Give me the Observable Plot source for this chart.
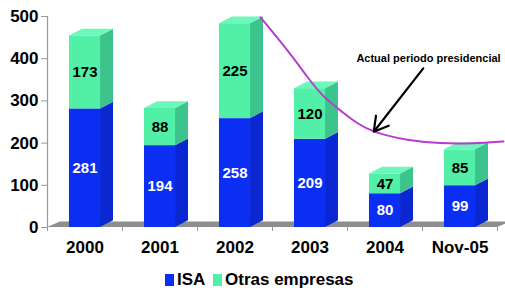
<!DOCTYPE html>
<html>
<head>
<meta charset="utf-8">
<script src="https://cdn.jsdelivr.net/npm/d3@7"></script>
<script src="https://cdn.jsdelivr.net/npm/@observablehq/plot@0.6"></script>
<style>
  html, body { margin: 0; padding: 0; background: #fff; }
  #chart svg { display: block; }
  #legend { position: relative; height: 25px; font-family: "Liberation Sans", Arial, sans-serif; font-weight: bold; font-size: 17px; color: #000; }
  #legend .item { position: absolute; top: 2px; display: flex; align-items: center; }
  #legend .sw { width: 9px; height: 12px; margin-right: 3px; }
</style>
</head>
<body>
<div id="chart"></div>
<div id="legend"></div>
<script>
// ---- data ----
const years = ["2000", "2001", "2002", "2003", "2004", "Nov-05"];
const isa = [281, 194, 258, 209, 80, 99];
const otras = [173, 88, 225, 120, 47, 85];
const yTicks = [0, 100, 200, 300, 400, 500];
const seriesNames = ["ISA", "Otras empresas"];
// magenta trend curve (x in category-index units, y in value units)
const curveX = [2.34, 2.74, 2.97, 3.18, 3.41, 3.63, 3.85, 4.30, 4.74, 5.18, 5.58];
const curveY = [498, 412, 355, 308, 277, 246, 225, 206, 199, 199, 204];
const noteText = "Actual periodo presidencial";
const notePos = [4.58, 400];
const arrowFrom = [4.51, 377];
const arrowTo = [3.85, 227];

// ---- style constants ----
const W = 505, H = 268;
const half = 0.207;      // half front width (index units)
const depthX = 0.173;    // 3D depth offset x (index units)
const depthY = 16;       // 3D depth offset y (value units)
const colors = {
  isaFront: "#0b2ff2", isaSide: "#0a27d2",
  otFront: "#52f0a6", otSide: "#3cc48c", otTop: "#6ef7ba",
  floor: "#8e8e8e", axis: "#9a9a9a", curve: "#b73ccf"
};

// ---- derived geometry ----
const segs = [];
years.forEach((yr, i) => {
  segs.push({id: yr + "-isa", s: 0, i, b: 0, t: isa[i], v: isa[i]});
  segs.push({id: yr + "-ot", s: 1, i, b: isa[i], t: isa[i] + otras[i], v: otras[i]});
});
function sidePts(s) {
  return [
    {id: s.id, x: s.i + half, y1: s.b, y2: s.t},
    {id: s.id, x: s.i + half + depthX, y1: s.b + depthY, y2: s.t + depthY}
  ];
}
const isaSides = segs.filter(d => d.s === 0).flatMap(sidePts);
const otSides = segs.filter(d => d.s === 1).flatMap(sidePts);
const tops = segs.filter(d => d.s === 1).flatMap(s => [
  {id: s.id, y: s.t, x1: s.i - half, x2: s.i + half},
  {id: s.id, y: s.t + depthY, x1: s.i - half + depthX, x2: s.i + half + depthX}
]);
const xMin = -0.5, xMax = years.length - 0.5;
const floorPts = [
  {y: 0, x1: xMin, x2: xMax},
  {y: depthY * 0.8, x1: xMin + depthX, x2: xMax + depthX}
];
const curve = curveX.map((x, k) => ({x, y: curveY[k]}));
const idx = years.map((_, i) => i);
const bounds = d3.range(years.length + 1).map(k => k - 0.5);

const plot = Plot.plot({
  width: W, height: H,
  marginLeft: 47, marginRight: W - 497, marginTop: 16, marginBottom: H - 227,
  style: {fontFamily: "'Liberation Sans', Arial, sans-serif", fontWeight: "bold", fontSize: "16px", color: "#000", background: "#fff"},
  x: {type: "linear", domain: [xMin, xMax]},
  y: {domain: [0, 500]},
  marks: [
    Plot.areaX(floorPts, {y: "y", x1: "x1", x2: "x2", fill: colors.floor}),
    Plot.ruleX([xMin], {y1: 0, y2: 500, stroke: colors.axis, strokeWidth: 1.2}),
    Plot.axisY({ticks: yTicks, tickSize: 6, tickPadding: 3, stroke: colors.axis, fontSize: 17, fontWeight: "bold", label: null}),
    Plot.axisX({ticks: bounds, tickSize: 4, tickFormat: () => "", stroke: colors.axis, label: null}),
    Plot.axisX({ticks: idx, tickSize: 0, tickPadding: 13, tickFormat: i => years[i], fontSize: 17, fontWeight: "bold", label: null}),
    Plot.areaY(isaSides, {x: "x", y1: "y1", y2: "y2", z: "id", fill: colors.isaSide}),
    Plot.areaY(otSides, {x: "x", y1: "y1", y2: "y2", z: "id", fill: colors.otSide}),
    Plot.rect(segs.filter(d => d.s === 0), {x1: d => d.i - half, x2: d => d.i + half, y1: "b", y2: "t", fill: colors.isaFront}),
    Plot.rect(segs.filter(d => d.s === 1), {x1: d => d.i - half, x2: d => d.i + half, y1: "b", y2: "t", fill: colors.otFront}),
    Plot.areaX(tops, {y: "y", x1: "x1", x2: "x2", z: "id", fill: colors.otTop}),
    Plot.text(segs, {x: "i", y: d => (d.b + d.t) / 2, text: d => String(d.v), fill: d => d.s === 0 ? "#ffffff" : "#000000", fontSize: 15, fontWeight: "bold"}),
    Plot.line(curve, {x: "x", y: "y", curve: "basis", stroke: colors.curve, strokeWidth: 2}),
    Plot.arrow([0], {x1: () => arrowFrom[0], y1: () => arrowFrom[1], x2: () => arrowTo[0], y2: () => arrowTo[1], stroke: "#000", strokeWidth: 2.2, headLength: 11}),
    Plot.text([noteText], {x: () => notePos[0], y: () => notePos[1], text: d => d, fontSize: 11, fontWeight: "bold", fill: "#000"})
  ]
});
document.getElementById("chart").appendChild(plot);

// legend
const legend = document.getElementById("legend");
const legendItems = [
  {name: seriesNames[0], color: colors.isaFront, left: 165},
  {name: seriesNames[1], color: colors.otFront, left: 213}
];
legendItems.forEach(it => {
  const el = document.createElement("div");
  el.className = "item";
  el.style.left = it.left + "px";
  const sw = document.createElement("span");
  sw.className = "sw";
  sw.style.background = it.color;
  const tx = document.createElement("span");
  tx.textContent = it.name;
  el.appendChild(sw); el.appendChild(tx);
  legend.appendChild(el);
});
</script>
</body>
</html>
